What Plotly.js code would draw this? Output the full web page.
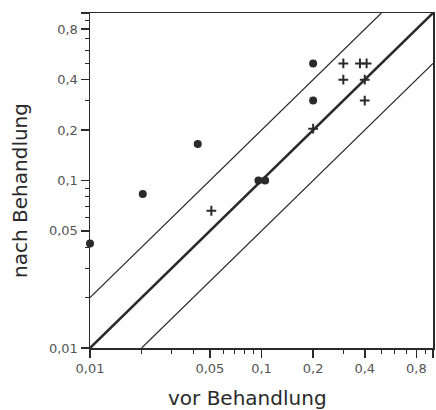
<!DOCTYPE html>
<html>
<head>
<meta charset="utf-8">
<script src="https://cdn.plot.ly/plotly-3.0.1.min.js"></script>
<style>html,body{margin:0;padding:0;background:#fff;}#chart{width:436px;height:410px;}</style>
</head>
<body>
<div id="chart"></div>
<script>
// Data (before vs. after treatment)
const circleVor  = [0.01, 0.0203, 0.0425, 0.2, 0.2, 0.096, 0.105];
const circleNach = [0.042, 0.083, 0.165, 0.50, 0.30, 0.10, 0.10];
const plusVor    = [0.051, 0.2, 0.3, 0.3, 0.375, 0.41, 0.40, 0.40];
const plusNach   = [0.066, 0.204, 0.50, 0.40, 0.50, 0.50, 0.40, 0.30];
// reference lines y = x, y = 2x, y = x/2
const diagX  = [0.01, 1];   const diagY  = [0.01, 1];
const upperX = [0.01, 0.5]; const upperY = [0.02, 1];
const lowerX = [0.02, 1];   const lowerY = [0.01, 0.5];
const tickVals   = [0.01, 0.05, 0.1, 0.2, 0.4, 0.8, 1];
const tickLabels = ['0,01', '0,05', '0,1', '0,2', '0,4', '0,8', ''];
const minorVals  = [0.02, 0.03, 0.04, 0.06, 0.07, 0.08, 0.09, 0.3, 0.5, 0.6, 0.7, 0.9];
const xTitle = 'vor Behandlung';
const yTitle = 'nach Behandlung';

const ink = '#2a2a2a';
const traces = [
  {x: upperX, y: upperY, mode: 'lines', line: {color: ink, width: 1.2}, hoverinfo: 'skip'},
  {x: lowerX, y: lowerY, mode: 'lines', line: {color: ink, width: 1.2}, hoverinfo: 'skip'},
  {x: diagX, y: diagY, mode: 'lines', line: {color: ink, width: 2.6}, hoverinfo: 'skip'},
  {x: circleVor, y: circleNach, mode: 'markers', cliponaxis: false,
   marker: {symbol: 'circle', size: 8, color: ink}},
  {x: plusVor, y: plusNach, mode: 'markers', cliponaxis: false,
   marker: {symbol: 'cross-thin', size: 7, color: ink, line: {color: ink, width: 2}}}
];

const axisBase = {
  type: 'log',
  range: [-2, 0],
  tickmode: 'array',
  tickvals: tickVals,
  ticktext: tickLabels,
  ticks: 'outside',
  ticklen: 8,
  tickwidth: 1.5,
  tickcolor: ink,
  showline: true,
  linecolor: ink,
  linewidth: 1.5,
  mirror: true,
  showgrid: false,
  zeroline: false,
  tickfont: {family: 'DejaVu Sans', size: 13, color: '#555'},
  minor: {tickmode: 'array', tickvals: minorVals, ticks: 'outside', ticklen: 4, tickwidth: 1, tickcolor: ink, showgrid: false}
};

const titleFont = {family: 'DejaVu Sans', size: 20, color: ink};
const layout = {
  width: 436, height: 410,
  margin: {l: 90, r: 3, t: 13, b: 62},
  paper_bgcolor: '#fff', plot_bgcolor: '#fff',
  showlegend: false,
  xaxis: Object.assign({}, axisBase),
  yaxis: Object.assign({}, axisBase),
  annotations: [
    {text: xTitle, xref: 'paper', yref: 'paper', x: 0.458, y: -0.149,
     xanchor: 'center', yanchor: 'middle', showarrow: false, font: titleFont},
    {text: yTitle, xref: 'paper', yref: 'paper', x: -0.204, y: 0.469, textangle: -90,
     xanchor: 'center', yanchor: 'middle', showarrow: false, font: titleFont}
  ]
};

Plotly.newPlot('chart', traces, layout, {staticPlot: true});
</script>
</body>
</html>
